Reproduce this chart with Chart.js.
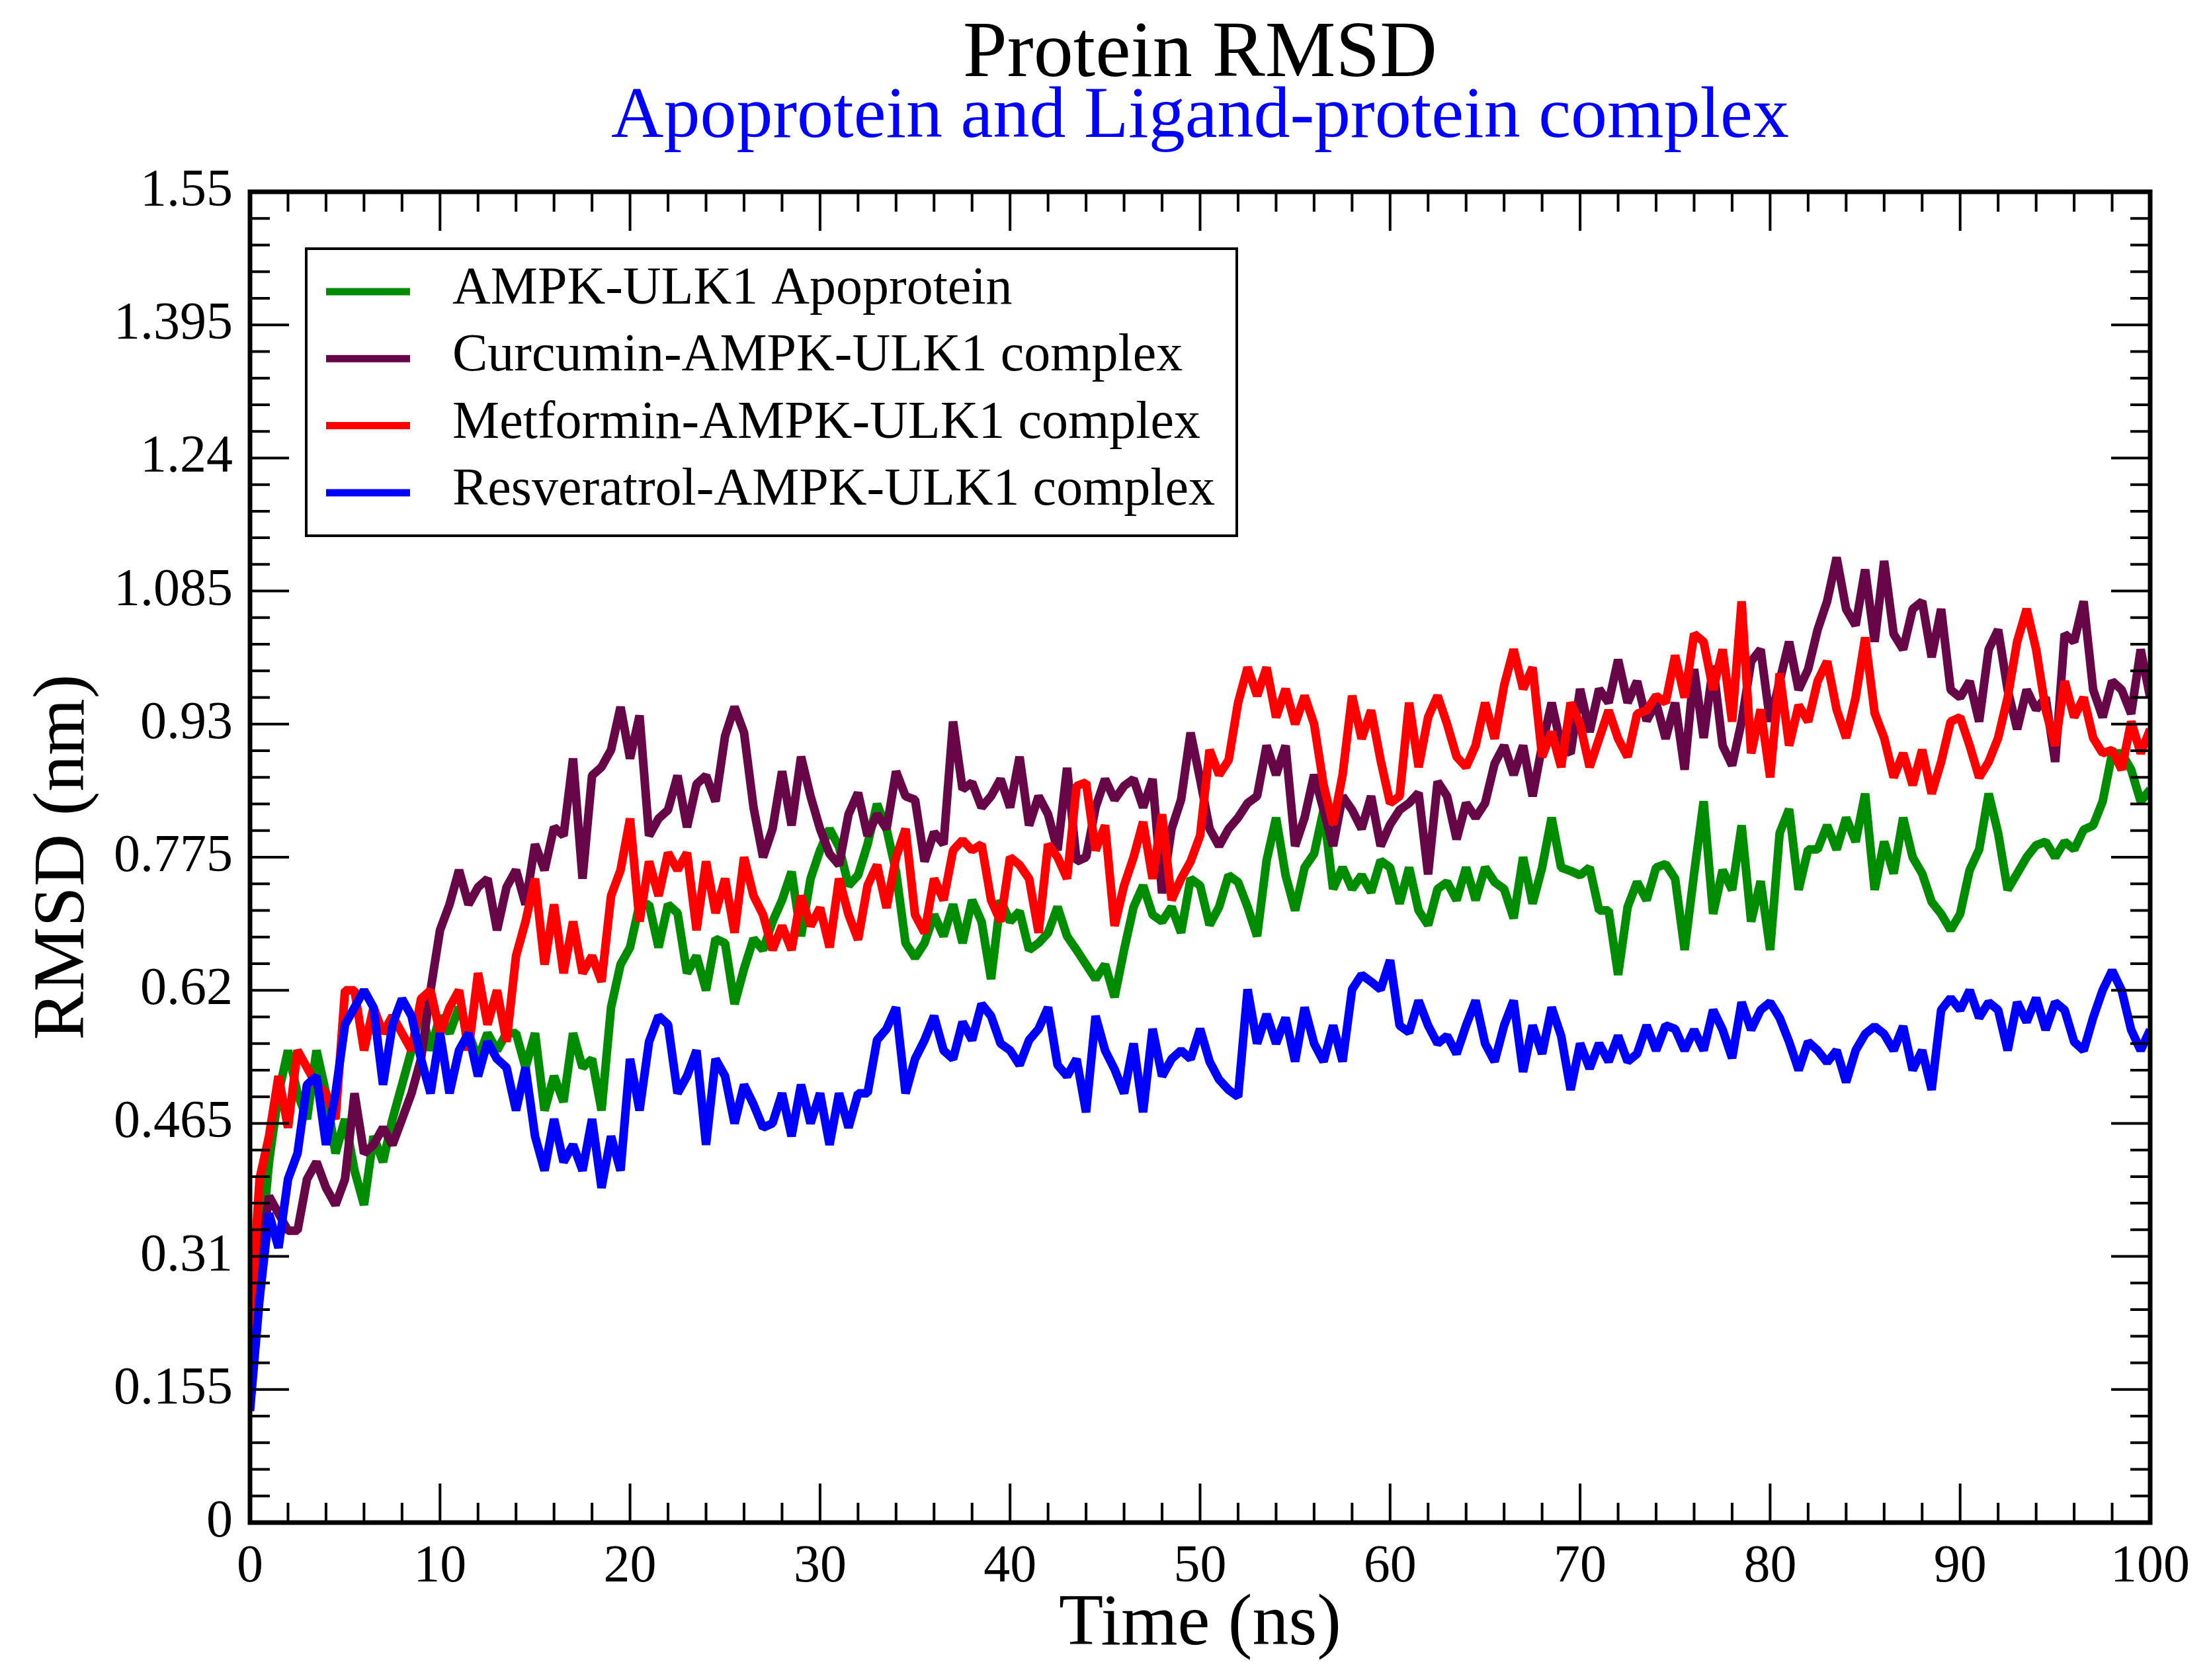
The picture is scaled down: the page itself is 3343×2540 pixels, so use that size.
<!DOCTYPE html>
<html>
<head>
<meta charset="utf-8">
<script src="https://cdn.jsdelivr.net/npm/chart.js@4.4.0/dist/chart.umd.min.js"></script>
<style>
  html, body { margin: 0; padding: 0; background: #fff; }
  canvas { display: block; }
</style>
</head>
<body>
<canvas id="ctx-rmsd" width="3343" height="2540"></canvas>
<script>
// time axis (ns), one sample every 0.5 ns
const timeNs = [
  0, 0.5, 1, 1.5, 2, 2.5, 3, 3.5, 4, 4.5, 5, 5.5, 6, 6.5, 7, 7.5, 8, 8.5, 9, 9.5,
  10, 10.5, 11, 11.5, 12, 12.5, 13, 13.5, 14, 14.5, 15, 15.5, 16, 16.5, 17, 17.5, 18, 18.5, 19, 19.5,
  20, 20.5, 21, 21.5, 22, 22.5, 23, 23.5, 24, 24.5, 25, 25.5, 26, 26.5, 27, 27.5, 28, 28.5, 29, 29.5,
  30, 30.5, 31, 31.5, 32, 32.5, 33, 33.5, 34, 34.5, 35, 35.5, 36, 36.5, 37, 37.5, 38, 38.5, 39, 39.5,
  40, 40.5, 41, 41.5, 42, 42.5, 43, 43.5, 44, 44.5, 45, 45.5, 46, 46.5, 47, 47.5, 48, 48.5, 49, 49.5,
  50, 50.5, 51, 51.5, 52, 52.5, 53, 53.5, 54, 54.5, 55, 55.5, 56, 56.5, 57, 57.5, 58, 58.5, 59, 59.5,
  60, 60.5, 61, 61.5, 62, 62.5, 63, 63.5, 64, 64.5, 65, 65.5, 66, 66.5, 67, 67.5, 68, 68.5, 69, 69.5,
  70, 70.5, 71, 71.5, 72, 72.5, 73, 73.5, 74, 74.5, 75, 75.5, 76, 76.5, 77, 77.5, 78, 78.5, 79, 79.5,
  80, 80.5, 81, 81.5, 82, 82.5, 83, 83.5, 84, 84.5, 85, 85.5, 86, 86.5, 87, 87.5, 88, 88.5, 89, 89.5,
  90, 90.5, 91, 91.5, 92, 92.5, 93, 93.5, 94, 94.5, 95, 95.5, 96, 96.5, 97, 97.5, 98, 98.5, 99, 99.5,
  100
];

const apoprotein = [
  0.16, 0.30, 0.42, 0.50, 0.55, 0.50, 0.47, 0.55, 0.50, 0.43, 0.47, 0.41, 0.37, 0.45, 0.42, 0.47, 0.51, 0.55, 0.60, 0.55,
  0.59, 0.57, 0.60, 0.57, 0.54, 0.57, 0.55, 0.57, 0.57, 0.53, 0.57, 0.48, 0.52, 0.49, 0.57, 0.53, 0.54, 0.48, 0.60, 0.65,
  0.67, 0.72, 0.72, 0.67, 0.72, 0.71, 0.64, 0.66, 0.62, 0.68, 0.675, 0.604, 0.645, 0.68, 0.667, 0.70, 0.725, 0.758, 0.683, 0.75,
  0.783, 0.808, 0.787, 0.742, 0.754, 0.79, 0.837, 0.808, 0.758, 0.675, 0.658, 0.675, 0.708, 0.683, 0.72, 0.675, 0.725, 0.70, 0.633, 0.725,
  0.70, 0.712, 0.667, 0.675, 0.687, 0.717, 0.683, 0.667, 0.65, 0.633, 0.65, 0.612, 0.667, 0.717, 0.742, 0.708, 0.70, 0.717, 0.687, 0.75,
  0.742, 0.696, 0.717, 0.754, 0.746, 0.717, 0.683, 0.771, 0.821, 0.754, 0.713, 0.763, 0.779, 0.830, 0.738, 0.763, 0.738, 0.754, 0.734, 0.771,
  0.763, 0.721, 0.763, 0.713, 0.696, 0.738, 0.746, 0.725, 0.763, 0.725, 0.763, 0.746, 0.738, 0.704, 0.775, 0.721, 0.763, 0.821, 0.763, 0.759,
  0.754, 0.763, 0.713, 0.713, 0.638, 0.717, 0.746, 0.725, 0.763, 0.767, 0.75, 0.667, 0.756, 0.84, 0.709, 0.76, 0.737, 0.812, 0.70, 0.747,
  0.667, 0.803, 0.831, 0.737, 0.784, 0.784, 0.812, 0.784, 0.821, 0.793, 0.849, 0.737, 0.793, 0.756, 0.821, 0.775, 0.756, 0.723, 0.709, 0.69,
  0.709, 0.76, 0.784, 0.849, 0.803, 0.737, 0.756, 0.775, 0.789, 0.793, 0.775, 0.793, 0.784, 0.807, 0.812, 0.84, 0.896, 0.896, 0.877, 0.84,
  0.854
];

const curcumin = [
  0.20, 0.30, 0.38, 0.36, 0.34, 0.34, 0.40, 0.42, 0.39, 0.37, 0.40, 0.50, 0.43, 0.44, 0.46, 0.44, 0.47, 0.50, 0.54, 0.62,
  0.69, 0.72, 0.76, 0.72, 0.74, 0.75, 0.69, 0.74, 0.76, 0.72, 0.79, 0.76, 0.81, 0.80, 0.89, 0.75, 0.87, 0.88, 0.90, 0.95,
  0.89, 0.94, 0.80, 0.82, 0.83, 0.87, 0.81, 0.86, 0.87, 0.84, 0.916, 0.95, 0.92, 0.833, 0.775, 0.808, 0.875, 0.812, 0.892, 0.846,
  0.808, 0.779, 0.766, 0.825, 0.85, 0.80, 0.825, 0.808, 0.875, 0.846, 0.842, 0.77, 0.804, 0.79, 0.933, 0.854, 0.862, 0.833, 0.846, 0.866,
  0.833, 0.892, 0.812, 0.846, 0.825, 0.783, 0.879, 0.77, 0.775, 0.833, 0.866, 0.842, 0.858, 0.866, 0.833, 0.866, 0.733, 0.808, 0.842, 0.92,
  0.866, 0.808, 0.788, 0.808, 0.821, 0.838, 0.846, 0.905, 0.871, 0.905, 0.788, 0.821, 0.871, 0.830, 0.788, 0.846, 0.830, 0.808, 0.846, 0.788,
  0.813, 0.830, 0.838, 0.85, 0.755, 0.863, 0.846, 0.796, 0.838, 0.821, 0.838, 0.884, 0.905, 0.871, 0.905, 0.846, 0.905, 0.955, 0.905, 0.896,
  0.971, 0.921, 0.971, 0.955, 1.005, 0.955, 0.98, 0.934, 0.955, 0.913, 0.955, 0.877, 0.994, 0.914, 0.998, 0.905, 0.882, 0.933, 1.003, 1.017,
  0.933, 0.98, 1.026, 0.97, 0.994, 1.04, 1.073, 1.124, 1.064, 1.045, 1.11, 1.026, 1.12, 1.035, 1.017, 1.064, 1.073, 1.008, 1.064, 0.97,
  0.961, 0.98, 0.933, 1.017, 1.04, 0.97, 0.924, 0.97, 0.947, 0.961, 0.886, 1.035, 1.026, 1.073, 0.97, 0.938, 0.98, 0.97, 0.942, 1.017,
  0.961
];

const metformin = [
  0.22, 0.40, 0.45, 0.52, 0.46, 0.55, 0.53, 0.51, 0.50, 0.47, 0.62, 0.62, 0.55, 0.60, 0.57, 0.59, 0.57, 0.55, 0.61, 0.62,
  0.57, 0.60, 0.62, 0.55, 0.64, 0.58, 0.62, 0.56, 0.66, 0.70, 0.75, 0.65, 0.72, 0.64, 0.70, 0.64, 0.66, 0.63, 0.73, 0.76,
  0.82, 0.70, 0.77, 0.73, 0.78, 0.76, 0.78, 0.69, 0.77, 0.71, 0.75, 0.687, 0.775, 0.73, 0.708, 0.667, 0.695, 0.667, 0.73, 0.695,
  0.716, 0.67, 0.75, 0.708, 0.679, 0.742, 0.766, 0.716, 0.775, 0.808, 0.708, 0.687, 0.75, 0.725, 0.783, 0.795, 0.783, 0.79, 0.725, 0.70,
  0.775, 0.766, 0.75, 0.687, 0.79, 0.775, 0.75, 0.858, 0.862, 0.783, 0.812, 0.695, 0.742, 0.775, 0.816, 0.75, 0.825, 0.725, 0.75, 0.77,
  0.80, 0.90, 0.871, 0.888, 0.955, 0.996, 0.963, 0.996, 0.938, 0.971, 0.93, 0.963, 0.93, 0.859, 0.813, 0.871, 0.963, 0.913, 0.946, 0.888,
  0.838, 0.846, 0.955, 0.88, 0.938, 0.963, 0.93, 0.892, 0.88, 0.905, 0.955, 0.913, 0.975, 1.017, 0.971, 0.996, 0.892, 0.921, 0.88, 0.955,
  0.93, 0.88, 0.913, 0.946, 0.913, 0.892, 0.942, 0.946, 0.963, 0.955, 1.01, 0.961, 1.035, 1.026, 0.97, 1.017, 0.933, 1.073, 0.896, 0.947,
  0.868, 0.989, 0.905, 0.952, 0.933, 0.98, 1.003, 0.947, 0.914, 0.961, 1.031, 0.943, 0.914, 0.868, 0.896, 0.859, 0.9, 0.849, 0.886, 0.933,
  0.938, 0.905, 0.868, 0.886, 0.914, 0.961, 1.026, 1.064, 1.017, 0.947, 0.905, 0.98, 0.938, 0.961, 0.914, 0.896, 0.9, 0.877, 0.933, 0.896,
  0.924
];

const resveratrol = [
  0.13, 0.26, 0.36, 0.32, 0.40, 0.43, 0.51, 0.52, 0.44, 0.50, 0.58, 0.60, 0.62, 0.60, 0.51, 0.58, 0.61, 0.59, 0.54, 0.50,
  0.57, 0.50, 0.55, 0.57, 0.52, 0.56, 0.54, 0.53, 0.48, 0.53, 0.45, 0.41, 0.47, 0.42, 0.44, 0.41, 0.47, 0.39, 0.45, 0.41,
  0.54, 0.48, 0.56, 0.59, 0.58, 0.50, 0.52, 0.55, 0.44, 0.54, 0.52, 0.465, 0.51, 0.487, 0.46, 0.465, 0.50, 0.45, 0.51, 0.465,
  0.50, 0.44, 0.50, 0.46, 0.50, 0.50, 0.562, 0.575, 0.60, 0.50, 0.54, 0.562, 0.59, 0.55, 0.54, 0.583, 0.562, 0.604, 0.59, 0.558,
  0.55, 0.533, 0.562, 0.575, 0.60, 0.533, 0.52, 0.54, 0.478, 0.59, 0.55, 0.528, 0.50, 0.558, 0.478, 0.575, 0.52, 0.54, 0.55, 0.54,
  0.575, 0.537, 0.516, 0.504, 0.496, 0.621, 0.558, 0.592, 0.558, 0.588, 0.537, 0.600, 0.558, 0.537, 0.579, 0.537, 0.621, 0.638, 0.63, 0.621,
  0.655, 0.579, 0.571, 0.608, 0.579, 0.558, 0.567, 0.546, 0.579, 0.608, 0.558, 0.537, 0.579, 0.608, 0.525, 0.579, 0.546, 0.60, 0.567, 0.504,
  0.558, 0.529, 0.558, 0.537, 0.567, 0.537, 0.546, 0.579, 0.55, 0.579, 0.575, 0.55, 0.574, 0.55, 0.597, 0.574, 0.541, 0.606, 0.574, 0.597,
  0.606, 0.588, 0.56, 0.527, 0.56, 0.55, 0.536, 0.55, 0.513, 0.55, 0.569, 0.578, 0.569, 0.55, 0.578, 0.527, 0.55, 0.504, 0.597, 0.611,
  0.597, 0.62, 0.588, 0.606, 0.597, 0.55, 0.606, 0.583, 0.611, 0.574, 0.606, 0.597, 0.56, 0.55, 0.588, 0.62, 0.643, 0.62, 0.574, 0.55,
  0.574
];

const seriesNames = [
  'AMPK-ULK1 Apoprotein',
  'Curcumin-AMPK-ULK1 complex',
  'Metformin-AMPK-ULK1 complex',
  'Resveratrol-AMPK-ULK1 complex'
];
const seriesColors = ['#008c00', '#670748', '#ff0000', '#0000ff'];

const xTickLabels = ['0', '10', '20', '30', '40', '50', '60', '70', '80', '90', '100'];
const yTickLabels = ['0', '0.155', '0.31', '0.465', '0.62', '0.775', '0.93', '1.085', '1.24', '1.395', '1.55'];

const SERIF = "'Liberation Serif', 'Times New Roman', serif";

const pairUp = (ys) => ys.map((y, i) => ({ x: timeNs[i], y: y }));

// grace-style frame with inward ticks on all four sides
const frameTicks = {
  id: 'frameTicks',
  afterDatasetsDraw(chart) {
    const ctx = chart.ctx;
    const a = chart.chartArea;
    const xs = chart.scales.x;
    const ys = chart.scales.y;
    const xMaj = xTickLabels.map(Number);
    const yMaj = yTickLabels.map(Number);

    ctx.save();
    ctx.strokeStyle = '#000';
    ctx.lineCap = 'butt';
    ctx.lineWidth = 4;
    ctx.beginPath();
    const tick = (len, val, horiz) => {
      if (horiz) {
        const px = xs.getPixelForValue(val);
        ctx.moveTo(px, a.bottom); ctx.lineTo(px, a.bottom - len);
        ctx.moveTo(px, a.top); ctx.lineTo(px, a.top + len);
      } else {
        const py = ys.getPixelForValue(val);
        ctx.moveTo(a.left, py); ctx.lineTo(a.left + len, py);
        ctx.moveTo(a.right, py); ctx.lineTo(a.right - len, py);
      }
    };
    for (let i = 0; i < xMaj.length; i++) {
      tick(59, xMaj[i], true);
      if (i < xMaj.length - 1) {
        const step = (xMaj[i + 1] - xMaj[i]) / 5;
        for (let k = 1; k < 5; k++) tick(30, xMaj[i] + k * step, true);
      }
    }
    for (let i = 0; i < yMaj.length; i++) {
      tick(59, yMaj[i], false);
      if (i < yMaj.length - 1) {
        const step = (yMaj[i + 1] - yMaj[i]) / 5;
        for (let k = 1; k < 5; k++) tick(30, yMaj[i] + k * step, false);
      }
    }
    ctx.stroke();

    ctx.lineWidth = 7;
    ctx.strokeRect(a.left, a.top, a.right - a.left, a.bottom - a.top);
    ctx.restore();
  }
};

const titlesAndLegend = {
  id: 'titlesAndLegend',
  afterDraw(chart) {
    const ctx = chart.ctx;
    const a = chart.chartArea;
    const cx = (a.left + a.right) / 2;

    ctx.save();
    ctx.textAlign = 'center';
    ctx.textBaseline = 'alphabetic';
    ctx.fillStyle = '#000';
    ctx.font = '120px ' + SERIF;
    ctx.fillText('Protein RMSD', cx, 115);
    ctx.fillStyle = '#0000ff';
    ctx.font = '110px ' + SERIF;
    ctx.fillText('Apoprotein and Ligand-protein complex', cx, 207);

    // legend box
    ctx.lineWidth = 4;
    ctx.strokeStyle = '#000';
    ctx.fillStyle = '#fff';
    ctx.fillRect(463, 376, 1407, 434);
    ctx.strokeRect(463, 376, 1407, 434);

    ctx.textAlign = 'left';
    ctx.font = '80px ' + SERIF;
    chart.data.datasets.forEach((ds, i) => {
      const rowY = 441 + i * 101.3;
      ctx.strokeStyle = ds.borderColor;
      ctx.lineWidth = 11;
      ctx.beginPath();
      ctx.moveTo(493, rowY);
      ctx.lineTo(620, rowY);
      ctx.stroke();
      ctx.fillStyle = '#000';
      ctx.fillText(ds.label, 684, rowY + 18);
    });
    ctx.restore();
  }
};

const datasets = [apoprotein, curcumin, metformin, resveratrol].map((vals, i) => ({
  label: seriesNames[i],
  data: pairUp(vals),
  borderColor: seriesColors[i],
  backgroundColor: seriesColors[i],
  borderWidth: 13,
  borderJoinStyle: 'bevel',
  pointRadius: 0,
  tension: 0,
  fill: false,
  order: 4 - i
}));

new Chart(document.getElementById('ctx-rmsd'), {
  type: 'line',
  data: { datasets: datasets },
  options: {
    responsive: false,
    animation: false,
    devicePixelRatio: 1,
    layout: { padding: { top: 290, right: 92, bottom: 0, left: 0 } },
    plugins: {
      legend: { display: false },
      tooltip: { enabled: false },
      title: { display: false }
    },
    scales: {
      x: {
        type: 'linear',
        min: 0,
        max: 100,
        grid: { display: false, drawTicks: false },
        border: { display: false },
        afterBuildTicks: (s) => { s.ticks = xTickLabels.map(v => ({ value: Number(v) })); },
        afterFit: (s) => { s.height = 238; },
        ticks: {
          color: '#000',
          padding: 20,
          maxRotation: 0,
          font: { family: SERIF, size: 80 },
          callback: (v, i) => xTickLabels[i]
        },
        title: {
          display: true,
          text: 'Time (ns)',
          color: '#000',
          font: { family: SERIF, size: 110 },
          padding: { top: 0, bottom: 17 }
        }
      },
      y: {
        type: 'linear',
        min: 0,
        max: 1.55,
        grid: { display: false, drawTicks: false },
        border: { display: false },
        afterBuildTicks: (s) => { s.ticks = yTickLabels.map(v => ({ value: Number(v) })); },
        afterFit: (s) => { s.width = 378; },
        ticks: {
          color: '#000',
          padding: 26,
          font: { family: SERIF, size: 80 },
          callback: (v, i) => yTickLabels[i]
        },
        title: {
          display: true,
          text: 'RMSD (nm)',
          color: '#000',
          font: { family: SERIF, size: 110 },
          padding: { top: 31, bottom: 0 }
        }
      }
    }
  },
  plugins: [frameTicks, titlesAndLegend]
});
</script>
</body>
</html>
